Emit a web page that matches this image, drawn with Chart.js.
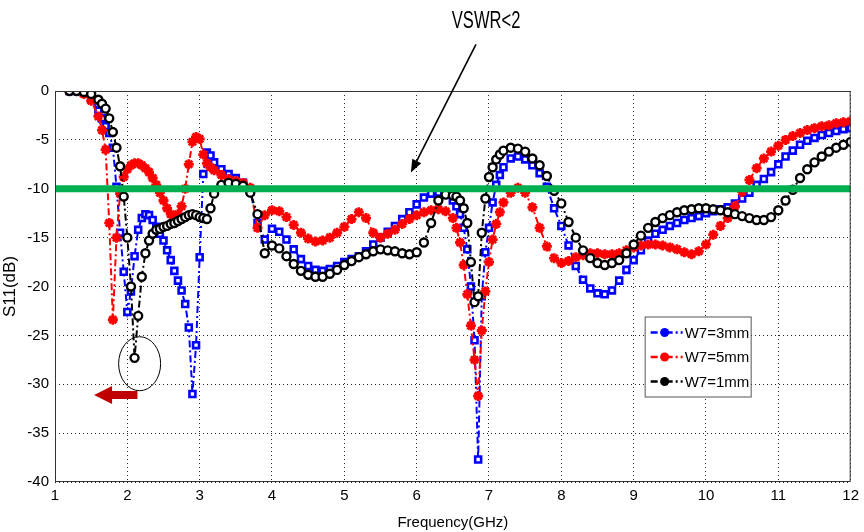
<!DOCTYPE html>
<html>
<head>
<meta charset="utf-8">
<script src="https://cdn.jsdelivr.net/npm/chart.js@4/dist/chart.umd.min.js"></script>
<style>
  body { margin: 0; background: #fff; }
  #c { display: block; }
</style>
</head>
<body>
<canvas id="c" width="864" height="532"></canvas>
<script>
// frequency points (GHz) - finer steps around the resonance dips
var freq = [
  1.2, 1.3, 1.4, 1.5, 1.6,
  1.65, 1.7, 1.75, 1.8, 1.85, 1.9, 1.95, 2.0, 2.05, 2.1, 2.15, 2.2, 2.25, 2.3, 2.35, 2.4,
  2.45, 2.5, 2.55, 2.6, 2.65, 2.7, 2.75, 2.8, 2.85, 2.9, 2.95, 3.0, 3.05, 3.1, 3.15, 3.2,
  3.3, 3.4, 3.5, 3.6, 3.7, 3.8, 3.9, 4.0, 4.1, 4.2, 4.3, 4.4, 4.5, 4.6, 4.7, 4.8, 4.9, 5.0,
  5.1, 5.2, 5.3, 5.4, 5.5, 5.6, 5.7, 5.8, 5.9, 6.0, 6.1, 6.2, 6.3, 6.4, 6.5,
  6.55, 6.6, 6.65, 6.7, 6.75, 6.8, 6.85, 6.9, 6.95, 7.0, 7.05, 7.1, 7.15, 7.2,
  7.3, 7.4, 7.5, 7.6, 7.7, 7.8, 7.9, 8.0, 8.1, 8.2, 8.3, 8.4, 8.5, 8.6, 8.7, 8.8, 8.9, 9.0,
  9.1, 9.2, 9.3, 9.4, 9.5, 9.6, 9.7, 9.8, 9.9, 10.0, 10.1, 10.2, 10.3, 10.4, 10.5, 10.6, 10.7, 10.8, 10.9, 11.0,
  11.1, 11.2, 11.3, 11.4, 11.5, 11.6, 11.7, 11.8, 11.9, 12.0
];

// S11 (dB), W7 = 3mm
var w7_3mm = [
  0, 0, -0.2, -0.8, -2.0,
  -2.8, -3.6, -4.3, -5.8, -9.8, -14.5, -18.5, -22.6, -20.5, -16.9, -14.2, -13.0, -12.6, -12.7, -13.2, -13.9,
  -14.6, -15.3, -16.3, -17.3, -18.4, -19.4, -20.4, -21.8, -24.2, -31.0, -26.0, -17.0, -8.5, -6.3, -6.6, -7.3,
  -8.0, -8.5, -8.9, -9.4, -10.3, -13.5, -15.2, -14.1, -14.4, -15.2, -16.2, -17.2, -17.9, -18.3, -18.4, -18.2, -17.9, -17.5,
  -17.2, -16.9, -16.4, -15.7, -15.0, -14.4, -13.8, -13.1, -12.4, -11.6, -10.9, -10.5, -10.4, -10.6, -11.2,
  -11.8, -12.6, -14.0, -16.2, -20.0, -25.5, -37.7, -21.0, -16.5, -14.0, -11.4, -9.6, -8.6, -7.8,
  -6.9, -6.7, -7.0, -7.6, -8.4, -9.8, -12.0, -13.8, -15.8, -17.9, -19.3, -20.2, -20.7, -20.8, -20.4, -19.4, -18.3, -17.3,
  -16.3, -15.3, -14.6, -14.2, -13.8, -13.5, -13.2, -13.0, -12.8, -12.5, -12.3, -12.1, -11.9, -11.5, -11.0, -10.4, -9.6, -9.0, -8.3, -7.5,
  -6.7, -6.1, -5.5, -5.1, -4.8, -4.5, -4.3, -4.1, -3.9, -3.8
];

// S11 (dB), W7 = 5mm
var w7_5mm = [
  0, 0, -0.3, -1.0, -2.6,
  -4.0, -6.0, -13.5, -23.4, -15.0, -10.5, -8.8, -8.0, -7.6, -7.4, -7.4, -7.6, -7.9, -8.3, -8.9, -9.6,
  -10.4, -11.2, -12.0, -12.6, -12.9, -12.6, -11.8, -10.0, -7.5, -5.2, -4.7, -4.9, -6.5, -7.4, -7.8, -8.1,
  -8.6, -9.0, -9.2, -9.4, -9.9, -14.0, -12.7, -12.2, -12.3, -12.9, -13.7, -14.5, -15.1, -15.4, -15.3, -15.0, -14.5, -13.9,
  -13.1, -12.4, -13.0, -14.5, -15.0, -14.6, -14.2, -13.6, -13.1, -12.7, -12.4, -12.2, -12.1, -12.3, -13.0,
  -14.0, -15.5, -17.8, -20.8, -24.0, -27.5, -31.2, -24.5, -20.5, -17.5, -15.2, -13.6, -12.4, -11.4,
  -10.4, -9.9, -10.4, -11.9, -14.0, -15.9, -17.1, -17.6, -17.4, -17.0, -16.8, -16.6, -16.6, -16.7, -16.7, -16.6, -16.3, -16.0,
  -15.8, -15.7, -15.7, -15.8, -16.0, -16.2, -16.5, -16.7, -16.4, -15.7, -14.7, -13.8, -13.0, -11.8, -10.3, -9.1, -7.9, -6.9, -6.2, -5.6,
  -5.0, -4.6, -4.3, -4.0, -3.8, -3.6, -3.5, -3.3, -3.2, -3.1
];

// S11 (dB), W7 = 1mm
var w7_1mm = [
  0, 0, -0.1, -0.3, -0.9,
  -1.3, -1.8, -2.8, -4.2, -5.8, -7.7, -10.8, -15.0, -20.0, -27.3, -23.0, -19.0, -16.6, -15.3, -14.6, -14.2,
  -14.1, -13.9, -13.8, -13.6, -13.5, -13.3, -13.1, -12.9, -12.7, -12.6, -12.7, -12.9, -13.0, -13.1, -12.0, -10.5,
  -9.6, -9.4, -9.5, -9.7, -10.4, -12.6, -16.6, -15.8, -16.1, -16.9, -17.7, -18.4, -18.8, -19.0, -19.0, -18.7, -18.3, -17.8,
  -17.4, -17.0, -16.7, -16.4, -16.2, -16.3, -16.4, -16.6, -16.7, -16.5, -15.5, -13.5, -11.2, -10.6, -10.7,
  -10.8, -11.2, -12.0, -13.5, -17.5, -21.6, -21.0, -14.5, -11.0, -8.8, -7.8, -7.0, -6.5, -6.1,
  -5.8, -5.9, -6.2, -6.9, -7.6, -8.7, -10.2, -11.5, -13.4, -15.0, -16.3, -17.1, -17.6, -17.8, -17.6, -17.3, -16.6, -15.7,
  -14.8, -14.0, -13.4, -13.0, -12.7, -12.4, -12.2, -12.1, -12.0, -12.0, -12.1, -12.2, -12.4, -12.6, -12.8, -13.0, -13.2, -13.2, -12.9, -12.2,
  -11.2, -10.1, -8.9, -8.0, -7.3, -6.7, -6.2, -5.8, -5.5, -5.2
];

var vswrLimit = -10;          // VSWR < 2 level
var xRange = [1, 12];
var yRange = [-40, 0];
var seriesNames = ["W7=3mm", "W7=5mm", "W7=1mm"];

function toPoints(ys) {
    var pts = [];
    for (var i = 0; i < freq.length; i++) {
        pts.push({ x: freq[i], y: ys[i] });
    }
    return pts;
}

var tickFont = { family: "'Liberation Sans', Arial, sans-serif", size: 15 };
var dashDot = [7, 3, 2, 3];

var seriesStyle = [
    { color: "rgb(0,0,255)", point: "rect", bg: "#fff", r: 4.2, bw: 2.6 },
    { color: "rgb(255,0,0)", point: "star", bg: "rgb(255,0,0)", r: 5, bw: 2.8 },
    { color: "rgb(0,0,0)", point: "circle", bg: "#fff", r: 4, bw: 2.4 }
];

// annotation extras: drawn on top of the plot
var overlay = {
    id: "overlay",
    afterDatasetsDraw: function (chart) {
        var ctx = chart.ctx;
        var xs = chart.scales.x, ys = chart.scales.y;
        var area = chart.chartArea;
        ctx.save();

        // box around the axes
        ctx.strokeStyle = "#333";
        ctx.lineWidth = 1;
        ctx.setLineDash([]);
        ctx.strokeRect(area.left + 0.5, area.top + 0.5, area.right - area.left - 1, area.bottom - area.top - 1);

        // circle marking the 1mm dip
        ctx.strokeStyle = "#000";
        ctx.lineWidth = 1;
        ctx.beginPath();
        ctx.ellipse(xs.getPixelForValue(2.17), ys.getPixelForValue(-27.9), 21, 27, 0, 0, Math.PI * 2);
        ctx.stroke();

        // dark red block arrow pointing left
        var tipX = xs.getPixelForValue(1.54), tailX = xs.getPixelForValue(2.14);
        var ay = ys.getPixelForValue(-31.1);
        ctx.fillStyle = "rgb(192,0,0)";
        ctx.beginPath();
        ctx.moveTo(tipX, ay);
        ctx.lineTo(tipX + 18, ay - 9);
        ctx.lineTo(tipX + 18, ay - 4);
        ctx.lineTo(tailX, ay - 4);
        ctx.lineTo(tailX, ay + 4);
        ctx.lineTo(tipX + 18, ay + 4);
        ctx.lineTo(tipX + 18, ay + 9);
        ctx.closePath();
        ctx.fill();

        // VSWR<2 label with arrow
        var lx = xs.getPixelForValue(6.96), ly = ys.getPixelForValue(7.05);
        ctx.fillStyle = "#000";
        ctx.font = "23px 'Liberation Sans', sans-serif";
        ctx.textAlign = "center";
        ctx.textBaseline = "middle";
        ctx.save();
        ctx.translate(lx, ly);
        ctx.scale(0.72, 1);
        ctx.fillText("VSWR<2", 0, 0);
        ctx.restore();
        var sx = xs.getPixelForValue(6.82), sy = ys.getPixelForValue(4.76);
        var ex = xs.getPixelForValue(5.92), ey = ys.getPixelForValue(-8.34);
        var ang = Math.atan2(ey - sy, ex - sx);
        ctx.strokeStyle = "#000";
        ctx.lineWidth = 1.6;
        ctx.beginPath();
        ctx.moveTo(sx, sy);
        ctx.lineTo(ex - 8 * Math.cos(ang), ey - 8 * Math.sin(ang));
        ctx.stroke();
        ctx.beginPath();
        ctx.moveTo(ex, ey);
        ctx.lineTo(ex - 13 * Math.cos(ang) + 5 * Math.sin(ang), ey - 13 * Math.sin(ang) - 5 * Math.cos(ang));
        ctx.lineTo(ex - 13 * Math.cos(ang) - 5 * Math.sin(ang), ey - 13 * Math.sin(ang) + 5 * Math.cos(ang));
        ctx.closePath();
        ctx.fill();

        // legend box
        var bx = area.right - 206, by = area.top + 225.5, bw = 106, bh = 80;
        ctx.fillStyle = "#fff";
        ctx.fillRect(bx, by, bw, bh);
        ctx.strokeStyle = "#555";
        ctx.lineWidth = 1;
        ctx.strokeRect(bx + 0.5, by + 0.5, bw, bh);
        ctx.textAlign = "left";
        ctx.font = "15px 'Liberation Sans', sans-serif";
        for (var i = 0; i < seriesNames.length; i++) {
            var st = seriesStyle[i];
            var rowY = by + 16 + i * 24.5;
            ctx.strokeStyle = st.color;
            ctx.lineWidth = 2.5;
            ctx.setLineDash(dashDot);
            ctx.beginPath();
            ctx.moveTo(bx + 6, rowY);
            ctx.lineTo(bx + 38, rowY);
            ctx.stroke();
            ctx.setLineDash([]);
            ctx.fillStyle = st.color;
            ctx.beginPath();
            ctx.arc(bx + 20, rowY, 4.5, 0, Math.PI * 2);
            ctx.fill();
            ctx.fillStyle = "#000";
            ctx.fillText(seriesNames[i], bx + 40, rowY + 1);
        }
        ctx.restore();
    }
};

var datasets = [{
    label: "VSWR<2",
    data: [{ x: xRange[0], y: vswrLimit }, { x: xRange[1], y: vswrLimit }],
    borderColor: "rgb(0,176,80)",
    borderWidth: 7,
    pointRadius: 0,
    borderCapStyle: "butt"
}];
var allSeries = [w7_3mm, w7_5mm, w7_1mm];
// black drawn above red, red above blue
[2, 1, 0].forEach(function (k) {
    var st = seriesStyle[k];
    datasets.push({
        label: seriesNames[k],
        data: toPoints(allSeries[k]),
        borderColor: st.color,
        backgroundColor: st.bg,
        borderWidth: 2,
        borderDash: dashDot,
        pointStyle: st.point,
        pointRadius: st.r,
        pointBorderWidth: st.bw,
        pointBorderColor: st.color,
        pointBackgroundColor: st.bg,
        tension: 0
    });
});

new Chart(document.getElementById("c"), {
    type: "line",
    data: { datasets: datasets },
    options: {
        responsive: false,
        animation: false,
        layout: { padding: { top: 91, right: 9, left: 0, bottom: 0 } },
        plugins: { legend: { display: false }, tooltip: { enabled: false } },
        scales: {
            x: {
                type: "linear",
                min: xRange[0],
                max: xRange[1],
                ticks: { stepSize: 1, color: "#000", font: tickFont, padding: 5 },
                grid: { color: "rgba(0,0,0,0.85)", drawTicks: false },
                border: { display: false, dash: [1, 3] },
                title: { display: true, text: "Frequency(GHz)", color: "#000", font: tickFont, padding: { top: 0, bottom: 0 } },
                afterFit: function (s) { s.height = 50; }
            },
            y: {
                min: yRange[0],
                max: yRange[1],
                ticks: { stepSize: 5, color: "#000", font: tickFont, padding: 6 },
                grid: { color: "rgba(0,0,0,0.85)", drawTicks: false },
                border: { display: false, dash: [1, 3] },
                title: { display: true, text: "S11(dB)", color: "#000", font: { family: tickFont.family, size: 17 }, padding: 0 },
                afterFit: function (s) { s.width = 55; }
            }
        }
    },
    plugins: [overlay]
});
</script>
</body>
</html>
